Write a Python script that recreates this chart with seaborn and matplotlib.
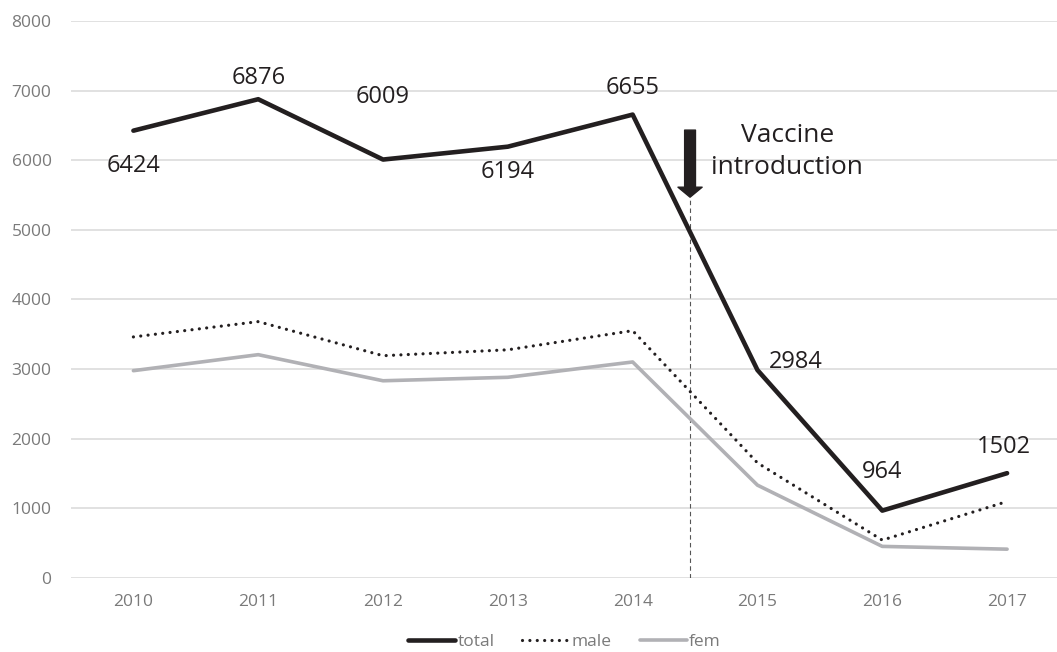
import numpy as np
import pandas as pd
import seaborn as sns
from matplotlib import pyplot as plt

# values
years = [2010, 2011, 2012, 2013, 2014, 2015, 2016, 2017]
total = [6424, 6876, 6009, 6194, 6655, 2984, 964, 1502]
male = [3460, 3680, 3190, 3275, 3550, 1650, 540, 1095]
fem = [2975, 3205, 2830, 2880, 3100, 1330, 450, 410]
yticks = [0, 1000, 2000, 3000, 4000, 5000, 6000, 7000, 8000]

# label offsets (pixels) for the total series
label_off = [(0, -35), (0, 21), (0, 63), (0, -25), (0, 27), (38, 8), (0, 39), (-3, 26)]

vaccine_x = 2014.46

sns.set_theme(style='white')
plt.rcParams['font.family'] = ['Open Sans', 'DejaVu Sans']

dark = '#231f20'
grey = '#b1b1b5'
tickc = '#7a7a7a'

fig = plt.figure(figsize=(10.57, 6.52), dpi=100)
ax = fig.add_axes([71/1057, (652-577.7)/652, 1-71/1057, (577.7-21)/652])

for y in yticks:
    ax.axhline(y, color='#d9d9d9', lw=1.1, zorder=0)

sns.lineplot(x=years, y=fem, ax=ax, color=grey, lw=2.6, label='fem', zorder=3)
sns.lineplot(x=years, y=male, ax=ax, color=dark, lw=2.3, label='male', zorder=4,
             linestyle=(0, (0.01, 2.3)), dash_capstyle='round')
sns.lineplot(x=years, y=total, ax=ax, color=dark, lw=3.3, label='total', zorder=5)

for x, v, (dx, dy) in zip(years, total, label_off):
    ax.annotate(str(v), (x, v), xytext=(dx*0.72, dy*0.72), textcoords='offset points',
                ha='center', va='center', fontsize=17, color=dark, zorder=6)

# vaccine marker
ax.plot([vaccine_x, vaccine_x], [0, 5468], color='#555555', lw=0.8,
        linestyle=(0, (4, 3)), zorder=2)
ax.annotate('', xy=(vaccine_x, 5468), xytext=(vaccine_x, 6432),
            arrowprops=dict(arrowstyle='simple,head_length=0.6,head_width=1.45,tail_width=0.65',
                            color=dark, shrinkA=0, shrinkB=0), zorder=6)
ax.text(2015.24, 6130, 'Vaccine\nintroduction', ha='center', va='center',
        fontsize=19, color=dark, linespacing=1.38)

ax.set_xlim(2009.5, 2017.4)
ax.set_ylim(0, 8000)
ax.set_xticks(years)
ax.set_yticks(yticks)
ax.set_xticklabels([str(y) for y in years])
ax.tick_params(axis='both', colors=tickc, labelsize=12.5, length=0)
ax.tick_params(axis='x', pad=12)
ax.tick_params(axis='y', pad=14)
for s in ax.spines.values():
    s.set_visible(False)
ax.set_xlabel('')
ax.set_ylabel('')

ax.get_legend().remove()
handles, labels = ax.get_legend_handles_labels()
order = [labels.index(n) for n in ['total', 'male', 'fem']]
leg = fig.legend([handles[i] for i in order], [labels[i] for i in order],
                 loc='center', bbox_to_anchor=(0.534, 0.016), ncol=3, frameon=False,
                 fontsize=12.5, handlelength=2.7, handletextpad=0.15, columnspacing=1.6,
                 labelcolor=tickc)

fig.savefig('out.png', dpi=100)
